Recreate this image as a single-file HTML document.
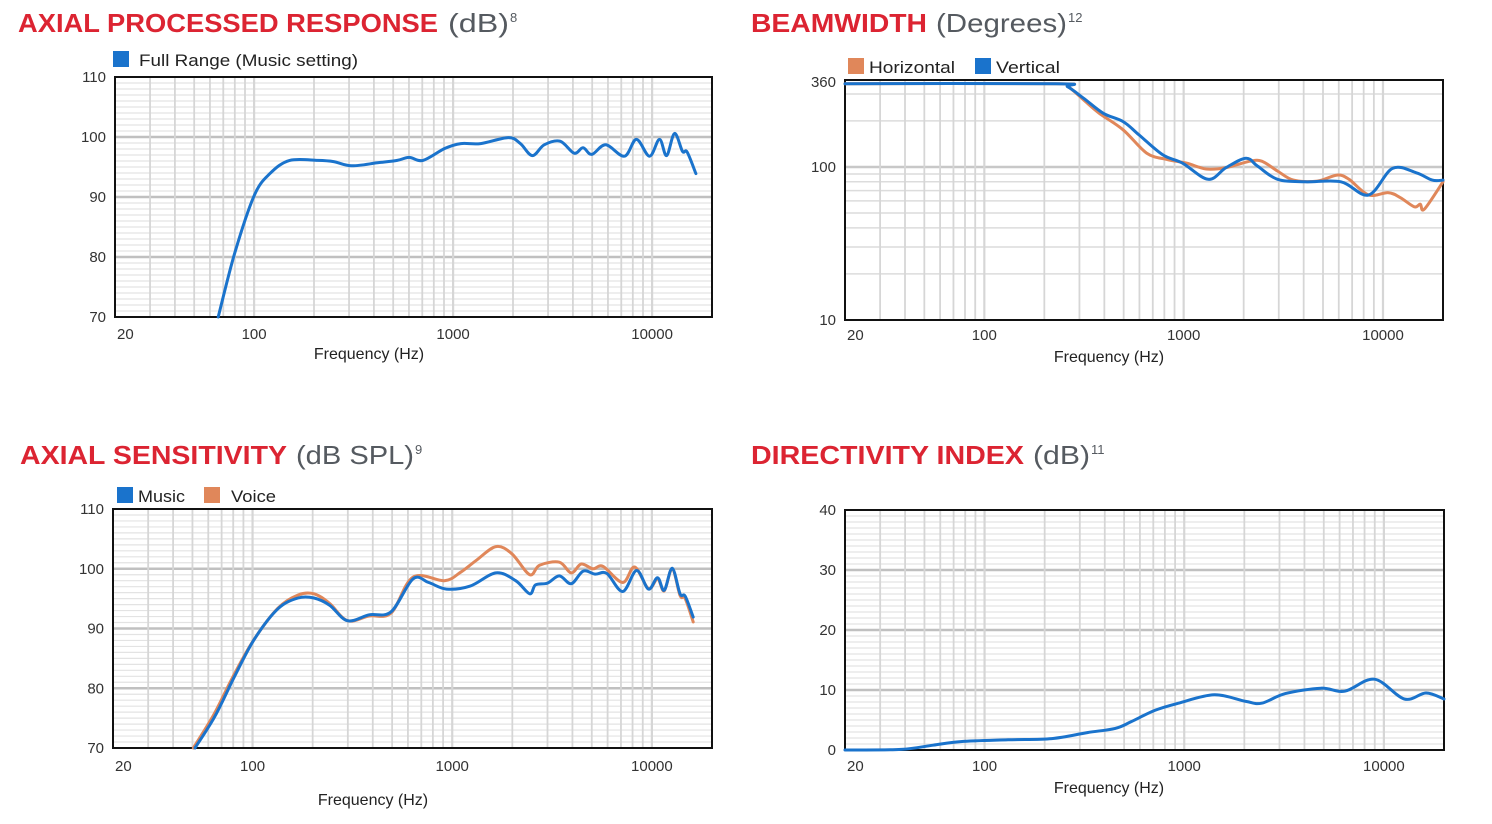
<!DOCTYPE html>
<html><head><meta charset="utf-8"><style>
html,body{margin:0;padding:0;background:#fff;}
svg{display:block;font-family:"Liberation Sans",sans-serif;}
</style></head><body>
<svg id="page" width="1492" height="824" viewBox="0 0 1492 824" xmlns="http://www.w3.org/2000/svg">
<g>
<text x="18" y="32" font-size="26" font-weight="bold" fill="#dc2432" textLength="420" lengthAdjust="spacingAndGlyphs">AXIAL PROCESSED RESPONSE</text>
<text x="448" y="32" font-size="26" fill="#555a60" textLength="61" lengthAdjust="spacingAndGlyphs">(dB)</text>
<text x="510" y="22" font-size="13" fill="#555a60">8</text></g>
<g>
<text x="751" y="32" font-size="26" font-weight="bold" fill="#dc2432" textLength="176" lengthAdjust="spacingAndGlyphs">BEAMWIDTH</text>
<text x="936" y="32" font-size="26" fill="#555a60" textLength="131" lengthAdjust="spacingAndGlyphs">(Degrees)</text>
<text x="1068" y="22" font-size="13" fill="#555a60">12</text></g>
<g>
<text x="20" y="464" font-size="26" font-weight="bold" fill="#dc2432" textLength="267" lengthAdjust="spacingAndGlyphs">AXIAL SENSITIVITY</text>
<text x="296" y="464" font-size="26" fill="#555a60" textLength="118" lengthAdjust="spacingAndGlyphs">(dB SPL)</text>
<text x="415" y="454" font-size="13" fill="#555a60">9</text></g>
<g>
<text x="751" y="464" font-size="26" font-weight="bold" fill="#dc2432" textLength="273" lengthAdjust="spacingAndGlyphs">DIRECTIVITY INDEX</text>
<text x="1033" y="464" font-size="26" fill="#555a60" textLength="57" lengthAdjust="spacingAndGlyphs">(dB)</text>
<text x="1091" y="454" font-size="13" fill="#555a60">11</text></g>

<g><rect x="113" y="51" width="16" height="16" fill="#1a73cc"/><text x="139" y="66" font-size="17" fill="#222" textLength="219" lengthAdjust="spacingAndGlyphs">Full Range  (Music setting)</text></g>
<g><rect x="848" y="58" width="16" height="16" fill="#e0875a"/><text x="869" y="73" font-size="17" fill="#222" textLength="86" lengthAdjust="spacingAndGlyphs">Horizontal</text></g>
<g><rect x="975" y="58" width="16" height="16" fill="#1a73cc"/><text x="996" y="73" font-size="17" fill="#222" textLength="64" lengthAdjust="spacingAndGlyphs">Vertical</text></g>
<g><rect x="117" y="487" width="16" height="16" fill="#1a73cc"/><text x="138" y="502" font-size="17" fill="#222" textLength="47" lengthAdjust="spacingAndGlyphs">Music</text></g>
<g><rect x="204" y="487" width="16" height="16" fill="#e0875a"/><text x="231" y="502" font-size="17" fill="#222" textLength="45" lengthAdjust="spacingAndGlyphs">Voice</text></g>
</svg>
<script>
// ---- data ----
const aprFreq = [66,80,100,120,151,209,251,309,417,524,601,706,910,1094,1374,1897,2178,2500,2871,3451,4055,4498,4977,5848,7262,8337,9705,10890,11830,12970,14220,15000,16600];
const aprDb = [70.0,80.7,90.2,93.9,96.1,96.1,95.9,95.2,95.7,96.1,96.6,96.1,98.1,98.9,98.9,99.9,98.9,96.9,98.7,99.3,97.3,98.2,97.1,98.7,96.8,99.6,96.8,99.6,96.9,100.6,97.6,97.5,93.9];
const bwVFreq = [20,228,262,315,396,497,597,785,986,1328,1633,2052,2355,2960,4070,6150,8470,11160,14690,17670,20000];
const bwV = [350,350,334,281,224,198,162,120,106,83,99,114,101,83,80,80,65.6,97.8,91.6,82,82];
const bwHFreq = [20,228,262,315,378,497,653,822,1033,1297,1633,2149,2467,2960,3557,4677,5876,6750,8470,10660,12220,14360,15390,16110,20000];
const bwH = [350,350,336,274,224,175,123,112,106,97,99,109,109,94,82,80.8,88.5,83,65.6,67.9,63,54.9,57.1,53,80];
const sensMFreq = [51.5,64.8,81.3,102,134,169,203,243,299,384,494,636,762,936,1230,1655,2080,2444,2614,3000,3439,3946,4527,5190,5950,7140,8380,9610,10670,11530,12640,13840,14690,16100];
const sensM = [70,75.3,82.0,88.2,93.3,95.1,95.1,93.9,91.3,92.3,92.8,98.3,97.7,96.6,97.1,99.3,98.0,95.8,97.3,97.6,98.8,97.5,99.6,99.1,99.2,96.2,99.7,96.6,98.5,96.4,100.1,95.8,95.4,91.9];
const sensVFreq = [50.5,64,80,101,134,169,203,243,299,384,494,636,914,1100,1318,1655,1990,2444,2736,3439,3946,4425,5070,5690,7140,8190,9610,10670,11530,12640,13840,14690,16100];
const sensV = [70,75.6,82.0,88.0,93.4,95.6,95.8,94.2,91.3,92.1,92.6,98.6,98.0,99.4,101.4,103.7,102.5,99.0,100.6,101.1,99.3,100.8,100.0,100.4,97.7,100.3,96.7,98.3,96.3,100.0,95.5,95.0,91.1];
const diFreq = [20,22,38.3,55.2,76,131,217,327,451,541,712,936,1413,2033,2444,3209,4840,6370,8970,12650,16250,20000];
const diVal = [0,0,0.1,0.8,1.4,1.7,1.9,2.9,3.6,4.7,6.6,7.8,9.2,8.1,7.8,9.4,10.3,9.8,11.8,8.5,9.5,8.5];
const xTickLabels = ["20","100","1000","10000"];
const xTickVals = [20,100,1000,10000];
const dbTicks = [70,80,90,100,110];
const bwTicks = [10,100,360];
const diTicks = [0,10,20,30,40];

const NS="http://www.w3.org/2000/svg";
const svg=document.getElementById('page');
function el(tag,attrs,parent){const e=document.createElementNS(NS,tag);for(const k in attrs)e.setAttribute(k,attrs[k]);(parent||svg).appendChild(e);return e;}

function makeChart(c){
  const g=el('g',{});
  
  
  const x=f=>c.x0+(c.x1-c.x0)*Math.log10(f/20)/3;
  const y=c.log? v=>c.y1-(c.y1-c.y0)*Math.log10(v/c.vmin)/Math.log10(c.vmax/c.vmin)
               : v=>c.y1-(c.y1-c.y0)*(v-c.vmin)/(c.vmax-c.vmin);
  const grid=el('g',{},g);
  
  
  if(c.log){
    [20,30,40,50,60,70,80,90,200,300].forEach(v=>{if(v<c.vmax)el('line',{x1:c.x0,x2:c.x1,y1:y(v),y2:y(v),stroke:'#dcdcdc','stroke-width':1.5},grid);});
    [100].forEach(v=>el('line',{x1:c.x0,x2:c.x1,y1:y(v),y2:y(v),stroke:'#c8c8c8','stroke-width':2.5},grid));
  } else {
    for(let v=c.vmin+1;v<c.vmax;v++){const maj=(v-c.vmin)%10===0;
      el('line',{x1:c.x0,x2:c.x1,y1:y(v),y2:y(v),stroke:maj?'#c0c0c0':'#e3e3e3','stroke-width':maj?2.5:1.2},grid);}
  }
  for(let d=10;d<=10000;d*=10){for(let m=1;m<10;m++){const f=d*m;if(f<=20||f>=20000)continue;
    el('line',{x1:x(f),x2:x(f),y1:c.y0,y2:c.y1,stroke:'#d6d6d6','stroke-width':m===1?2.2:1.8},grid);}}
  const box=el('rect',{x:c.x0,y:c.y0,width:c.x1-c.x0,height:c.y1-c.y0,fill:'none',stroke:'#111','stroke-width':2},g);
  
  
  c.yticks.forEach(v=>{const t=el('text',{x:c.x0-9,y:y(v)+5,'font-size':15,'text-anchor':'end',fill:'#333'},g);t.textContent=String(v);
    
    });
  xTickVals.forEach((f,i)=>{const px=i===0?c.x0+2:x(f);const t=el('text',{x:px,y:c.xty,'font-size':15,'text-anchor':i===0?'start':'middle',fill:'#333'},g);t.textContent=xTickLabels[i];
    
    });
  const at=el('text',{x:c.atx,y:c.aty,'font-size':16,'text-anchor':'middle',fill:'#222'},g);at.textContent='Frequency (Hz)';
  
  
  c.series.forEach(s=>{
    const pts=s.f.map((f,i)=>[x(f),y(s.v[i])]);
    let d='M'+pts[0][0].toFixed(1)+','+pts[0][1].toFixed(1);
    for(let i=0;i<pts.length-1;i++){const p0=pts[Math.max(0,i-1)],p1=pts[i],p2=pts[i+1],p3=pts[Math.min(pts.length-1,i+2)];
      const c1=[p1[0]+(p2[0]-p0[0])/6,p1[1]+(p2[1]-p0[1])/6],c2=[p2[0]-(p3[0]-p1[0])/6,p2[1]-(p3[1]-p1[1])/6];
      d+=` C${c1[0].toFixed(1)},${c1[1].toFixed(1)} ${c2[0].toFixed(1)},${c2[1].toFixed(1)} ${p2[0].toFixed(1)},${p2[1].toFixed(1)}`;}
    const p=el('path',{d:d,fill:'none',stroke:s.color,'stroke-width':3,'stroke-linejoin':'round','stroke-linecap':'round'},g);
    
    
  });
}
makeChart({name:'axial-processed-response-chart',x0:115,x1:712,y0:77,y1:317,vmin:70,vmax:110,log:false,yticks:dbTicks,xty:339,atx:369,aty:359,
  series:[{name:'full-range-line',f:aprFreq,v:aprDb,color:'#1a73cc'}]});
makeChart({name:'beamwidth-chart',x0:845,x1:1443,y0:80,y1:320,vmin:10,vmax:370,log:true,yticks:bwTicks,xty:340,atx:1109,aty:362,
  series:[{name:'horizontal-line',f:bwHFreq,v:bwH,color:'#e0875a'},{name:'vertical-line',f:bwVFreq,v:bwV,color:'#1a73cc'}]});
makeChart({name:'axial-sensitivity-chart',x0:113,x1:712,y0:509,y1:748,vmin:70,vmax:110,log:false,yticks:dbTicks,xty:771,atx:373,aty:805,
  series:[{name:'voice-line',f:sensVFreq,v:sensV,color:'#e0875a'},{name:'music-line',f:sensMFreq,v:sensM,color:'#1a73cc'}]});
makeChart({name:'directivity-index-chart',x0:845,x1:1444,y0:510,y1:750,vmin:0,vmax:40,log:false,yticks:diTicks,xty:771,atx:1109,aty:793,
  series:[{name:'directivity-index-line',f:diFreq,v:diVal,color:'#1a73cc'}]});
</script>
</body></html>
